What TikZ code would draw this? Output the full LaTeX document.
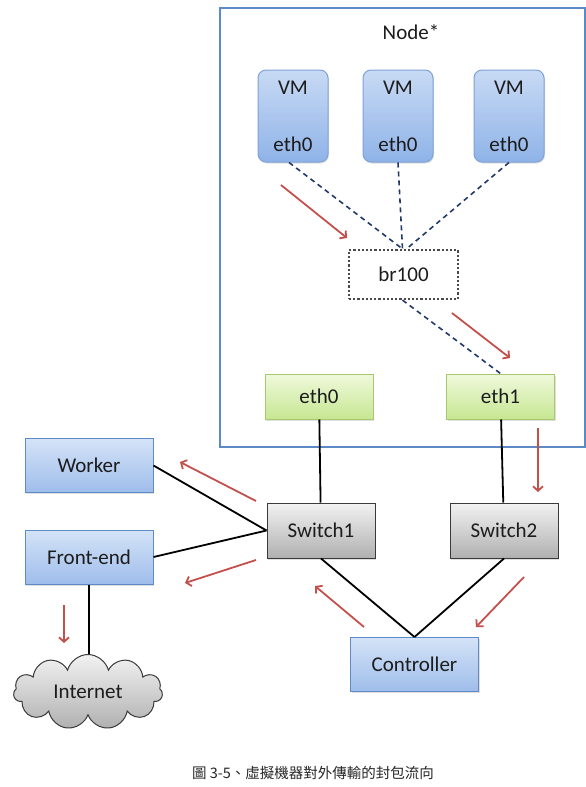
\documentclass[tikz,border=0pt]{standalone}
\usepackage{fontspec}
\setmainfont{Carlito}
\newfontfamily\cjkfont{Noto Sans CJK TC}
\usepackage{xcolor}
\usepackage{tikz}
\definecolor{frameblue}{HTML}{5B8AC6}
\definecolor{vmline}{HTML}{7EA2D6}
\definecolor{vmtop}{HTML}{C8DAF4}
\definecolor{vmbot}{HTML}{8FB3E8}
\definecolor{hostline}{HTML}{5E8BC8}
\definecolor{hosttop}{HTML}{D4E3F7}
\definecolor{hostbot}{HTML}{9FBDEB}
\definecolor{nicline}{HTML}{A7C86C}
\definecolor{nictop}{HTML}{F0F9DC}
\definecolor{nicbot}{HTML}{C6E792}
\definecolor{swline}{HTML}{3A3A3A}
\definecolor{swtop}{HTML}{F2F2F2}
\definecolor{swbot}{HTML}{B0B0B0}
\definecolor{bridge}{HTML}{4A4A4A}
\definecolor{link}{HTML}{22396B}
\definecolor{flowred}{HTML}{C4504C}
\definecolor{ink}{HTML}{1C1C1C}
\tikzstyle{shade} = [drop shadow={shadow xshift=1pt, shadow yshift=-1.5pt, opacity=0.25}]
\tikzstyle{vm} = [shade, draw=vmline, line width=1pt, rounded corners=8pt, top color=vmtop, bottom color=vmbot, minimum width=70pt, minimum height=92pt, inner sep=0pt, align=center]
\tikzstyle{host} = [shade, draw=hostline, line width=1pt, top color=hosttop, bottom color=hostbot, minimum width=130pt, minimum height=54pt, inner sep=0pt]
\tikzstyle{nic} = [shade, draw=nicline, line width=1pt, top color=nictop, bottom color=nicbot, minimum width=108pt, minimum height=45pt, inner sep=0pt]
\tikzstyle{sw} = [shade, draw=swline, line width=1pt, top color=swtop, bottom color=swbot, minimum width=108pt, minimum height=55pt, inner sep=0pt]
\tikzstyle{br} = [draw=bridge, line width=2.2pt, dotted, minimum width=109pt, minimum height=49pt, inner sep=0pt]
\tikzstyle{cable} = [draw, line width=1.8pt, black, -]
\tikzstyle{veth} = [draw=link, line width=1.6pt, dash pattern=on 5pt off 4pt]
\tikzstyle{flow} = [draw=flowred, line width=1.8pt, -{Straight Barb[length=4.5pt,width=10pt]}]
\usetikzlibrary{arrows.meta,shapes.symbols,shadows}

\begin{document}
\begin{tikzpicture}[x=1pt, y=-1pt, every node/.style={font=\fontsize{21}{25}\selectfont, text=ink}]
  \useasboundingbox (0,0) rectangle (586,787);
  % Frame of the node
  \draw[frameblue, line width=1.6pt] (220,8) rectangle (585,447);
  \node (title)  at (411,32)    {Node*};

  % Nodes
  \node[vm] (vm1) at (293,116)   {VM\\[32pt]eth0};
  \node[vm] (vm2) at (398,116)   {VM\\[32pt]eth0};
  \node[vm] (vm3) at (509,116)   {VM\\[32pt]eth0};

  \node[br] (br)  at (403.5,274.5) {br100};

  \node[nic] (eth0) at (319,396.5) {eth0};
  \node[nic] (eth1) at (500.5,396.5) {eth1};

  \node[sw] (sw1) at (321,530.5) {Switch1};
  \node[sw] (sw2) at (504,530.5) {Switch2};

  \node[host, minimum width=128pt] (worker)   at (89,465.5)  {Worker};
  \node[host, minimum width=128pt] (frontend) at (89,557)  {Front-end};
  \node[host, minimum width=128pt] (ctrl) at (414.5,664.5) {Controller};

  \node[cloud, cloud puffs=11, aspect=2, draw=swline, line width=1pt, top color=swtop, bottom color=swbot,
        minimum width=149pt, minimum height=75pt, inner sep=0pt] (inet) at (88,692) {Internet};

  \node[font=\cjkfont\fontsize{14.5}{16}\selectfont, text=black!85] (caption) at (313,773)
        {圖 3-5、虛擬機器對外傳輸的封包流向};

  % Links
  \draw[veth] ([xshift=-4pt]vm1.south) -- ([xshift=-1pt]br.north);
  \draw[veth] (vm2.south) -- ([xshift=-1pt]br.north);
  \draw[veth] (vm3.south) -- ([xshift=3pt]br.north);
  \draw[veth] ([xshift=-1pt]br.south) -- (eth1.north);

  \draw[cable] (eth0) -- (sw1);
  \draw[cable] (eth1) -- (sw2);
  \draw[cable] (worker.east) -- (sw1.west);
  \draw[cable] (frontend.east) -- (sw1.west);
  \draw[cable] (sw1.south) -- (ctrl.north);
  \draw[cable] (sw2.south) -- (ctrl.north);
  \draw[cable] (frontend.south) -- (inet.north -| frontend.south);

  % Arrows
  \draw[flow] (281,185) -- (347,238);
  \draw[flow] (452,313) -- (510,358);
  \draw[flow] (538,428) -- (538,492);
  \draw[flow] (256,501) -- (180,462);
  \draw[flow] (256,560) -- (185,583);
  \draw[flow] (364,627) -- (315,586);
  \draw[flow] (524,577) -- (476,627);
  \draw[flow] (64,605) -- (64,643);
\end{tikzpicture}
\end{document}
